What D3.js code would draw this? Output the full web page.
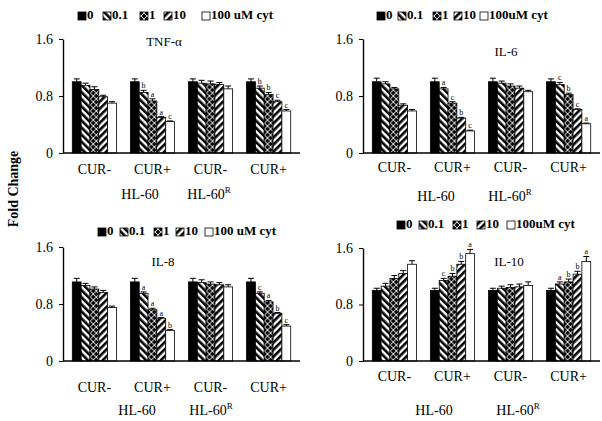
<!DOCTYPE html>
<html>
<head>
<meta charset="utf-8">
<script src="https://cdn.jsdelivr.net/npm/d3@7"></script>
<style>
body { margin: 0; background: #fff; }
text { font-family: "Liberation Serif", "Times New Roman", serif; }
</style>
</head>
<body>
<script>
// categories
var groups = ["CUR-", "CUR+", "CUR-", "CUR+"]
var doses = ["0", "0.1", "1", "10", "100"]
var legendText = ["0", "0.1", "1", "10", "100 uM cyt"]
var legendTextTight = ["0", "0.1", "1", "10", "100uM cyt"]
var cellLines = ["HL-60", "HL-60"]
var yTicks = [0, 0.8, 1.6]

// fold change values, one row per group (dose 0, 0.1, 1, 10, 100)
var tnf = [[1.0, 0.95, 0.89, 0.79, 0.70], [1.0, 0.85, 0.73, 0.50, 0.44], [1.0, 0.98, 0.97, 0.96, 0.90], [1.0, 0.91, 0.82, 0.72, 0.59]]
var tnfErr = [[0.04, 0.03, 0.04, 0.02, 0.02], [0.04, 0.03, 0.03, 0.01, 0.01], [0.04, 0.04, 0.04, 0.03, 0.04], [0.04, 0.03, 0.03, 0.02, 0.02]]
var tnfSig = [["", "", "", "", ""], ["", "b", "a", "a", "c"], ["", "", "", "", ""], ["", "b", "b", "c", "c"]]

var il6 = [[1.0, 0.97, 0.90, 0.67, 0.59], [1.0, 0.90, 0.70, 0.49, 0.31], [1.0, 0.98, 0.94, 0.91, 0.86], [1.0, 0.96, 0.82, 0.61, 0.41]]
var il6Err = [[0.05, 0.03, 0.02, 0.02, 0.02], [0.05, 0.02, 0.02, 0.01, 0.01], [0.05, 0.03, 0.03, 0.03, 0.02], [0.04, 0.03, 0.02, 0.01, 0.01]]
var il6Sig = [["", "", "", "", ""], ["", "a", "c", "b", "c"], ["", "", "", "", ""], ["", "c", "b", "c", "a"]]

var il8 = [[1.11, 1.06, 1.01, 0.96, 0.75], [1.11, 0.95, 0.72, 0.60, 0.43], [1.11, 1.10, 1.08, 1.07, 1.04], [1.11, 0.95, 0.83, 0.67, 0.49]]
var il8Err = [[0.05, 0.03, 0.03, 0.03, 0.02], [0.05, 0.02, 0.02, 0.01, 0.01], [0.05, 0.04, 0.03, 0.03, 0.03], [0.05, 0.02, 0.02, 0.01, 0.02]]
var il8Sig = [["", "", "", "", ""], ["", "a", "a", "a", "b"], ["", "", "", "", ""], ["", "c", "a", "b", "c"]]

var il10 = [[1.0, 1.06, 1.17, 1.24, 1.37], [1.0, 1.14, 1.20, 1.37, 1.52], [1.0, 1.03, 1.04, 1.05, 1.07], [1.0, 1.09, 1.12, 1.23, 1.41]]
var il10Err = [[0.03, 0.04, 0.04, 0.04, 0.05], [0.03, 0.03, 0.04, 0.04, 0.06], [0.03, 0.03, 0.04, 0.04, 0.05], [0.03, 0.03, 0.04, 0.04, 0.07]]
var il10Sig = [["", "", "", "", ""], ["", "c", "b", "b", "a"], ["", "", "", "", ""], ["", "a", "b", "b", "a"]]

var fills = ["#000", "url(#p01)", "url(#p1)", "url(#p10)", "#fff"]

let svg = d3.select("body").append("svg")
    .attr("width", 602)
    .attr("height", 421)
    .style("background", "#fff")

let defs = svg.append("defs")

// 0.1: "\" stripes
let p01 = defs.append("pattern").attr("id", "p01")
    .attr("patternUnits", "userSpaceOnUse")
    .attr("width", 5).attr("height", 5)
    .attr("patternTransform", "rotate(-45)")
p01.append("rect").attr("width", 5).attr("height", 5).attr("fill", "#fff")
p01.append("rect").attr("width", 2.6).attr("height", 5).attr("fill", "#000")

// 10: "/" stripes
let p10 = defs.append("pattern").attr("id", "p10")
    .attr("patternUnits", "userSpaceOnUse")
    .attr("width", 5).attr("height", 5)
    .attr("patternTransform", "rotate(45)")
p10.append("rect").attr("width", 5).attr("height", 5).attr("fill", "#fff")
p10.append("rect").attr("width", 2.6).attr("height", 5).attr("fill", "#000")

// 1: diamonds
let p1 = defs.append("pattern").attr("id", "p1")
    .attr("patternUnits", "userSpaceOnUse")
    .attr("width", 6).attr("height", 6)
p1.append("rect").attr("width", 6).attr("height", 6).attr("fill", "#fff")
p1.append("path").attr("fill", "#000")
    .attr("d", "M3,0.6L5.4,3L3,5.4L0.6,3Z M0,-2.4L2.4,0L0,2.4L-2.4,0Z M6,-2.4L8.4,0L6,2.4L3.6,0Z M0,3.6L2.4,6L0,8.4L-2.4,6Z M6,3.6L8.4,6L6,8.4L3.6,6Z")

function drawPanel(p) {
    let g = svg.append("g")

    let x = d3.scaleBand()
        .domain(d3.range(groups.length))
        .range([p.left, p.right])
        .paddingInner(0.24)
        .paddingOuter(0.16)

    let xi = d3.scaleBand()
        .domain(doses)
        .range([0, x.bandwidth()])

    let y = d3.scaleLinear()
        .domain([0, 1.6])
        .range([p.base, p.top])

    // bars
    p.values.forEach((row, gi) => {
        let bg = g.append("g").attr("transform", "translate(" + x(gi) + ",0)")
        bg.selectAll("rect")
            .data(row)
            .enter()
            .append("rect")
            .attr("x", (d, i) => xi(doses[i]))
            .attr("width", xi.bandwidth())
            .attr("y", d => y(d))
            .attr("height", d => y(0) - y(d))
            .attr("fill", (d, i) => fills[i])
            .attr("stroke", "#000")
            .attr("stroke-width", 0.8)

        // error bars
        bg.selectAll("path.err")
            .data(row)
            .enter()
            .append("path")
            .attr("class", "err")
            .attr("fill", "none")
            .attr("stroke", "#000")
            .attr("stroke-width", 1)
            .attr("d", (d, i) => {
                let cx = xi(doses[i]) + xi.bandwidth() / 2
                let t = y(d + p.errs[gi][i])
                return "M" + cx + "," + y(d) + "V" + t + "M" + (cx - 3) + "," + t + "H" + (cx + 3)
            })

        // significance letters
        bg.selectAll("text.sig")
            .data(row)
            .enter()
            .append("text")
            .attr("class", "sig")
            .attr("x", (d, i) => xi(doses[i]) + xi.bandwidth() / 2)
            .attr("y", (d, i) => y(d + p.errs[gi][i]) - 2)
            .attr("text-anchor", "middle")
            .attr("font-size", 8)
            .text((d, i) => p.sig[gi][i])
    })

    // y axis
    let yAxis = d3.axisLeft(y)
        .tickValues(yTicks)
        .tickSize(4)
        .tickSizeOuter(0)
        .tickPadding(6)
        .tickFormat(d => d === 0 ? "0" : d3.format(".1f")(d))

    let ya = g.append("g")
        .attr("transform", "translate(" + p.left + ",0)")
        .call(yAxis)
    ya.selectAll("text")
        .attr("font-family", "Liberation Serif")
        .attr("font-size", 14)
        .attr("fill", "#000")
    ya.select(".domain").attr("stroke-width", 1.4)

    // x baseline
    g.append("line")
        .attr("x1", p.left).attr("x2", p.right)
        .attr("y1", y(0)).attr("y2", y(0))
        .attr("stroke", "#000")
        .attr("stroke-width", 1.4)

    // group labels
    g.selectAll("text.grp")
        .data(groups)
        .enter()
        .append("text")
        .attr("class", "grp")
        .attr("x", (d, i) => x(i) + x.bandwidth() / 2)
        .attr("y", p.catY)
        .attr("text-anchor", "middle")
        .attr("dominant-baseline", "middle")
        .attr("font-size", 14)
        .text(d => d)

    // cell line labels
    cellLines.forEach((c, i) => {
        let t = g.append("text")
            .attr("x", p.cellX[i])
            .attr("y", p.cellY)
            .attr("text-anchor", "middle")
            .attr("dominant-baseline", "middle")
            .attr("font-size", 14)
            .text(c)
        if (i === 1) {
            t.append("tspan")
                .attr("font-size", 9)
                .attr("dy", -5)
                .text("R")
        }
    })

    // title
    g.append("text")
        .attr("x", p.titleX)
        .attr("y", p.titleY)
        .attr("text-anchor", "middle")
        .attr("dominant-baseline", "middle")
        .attr("font-size", 13)
        .text(p.title)

    // legend
    let lg = g.append("g").attr("transform", "translate(" + p.legX + "," + p.legY + ")")
    p.legText.forEach((t, i) => {
        lg.append("rect")
            .attr("x", p.legOff[i])
            .attr("y", -4)
            .attr("width", 8)
            .attr("height", 8)
            .attr("fill", fills[i])
            .attr("stroke", "#000")
            .attr("stroke-width", 0.8)
        lg.append("text")
            .attr("x", p.legOff[i] + 9)
            .attr("y", 0.5)
            .attr("dominant-baseline", "middle")
            .attr("font-size", 13)
            .attr("font-weight", "bold")
            .text(t)
    })
}

drawPanel({
    title: "TNF-\u03b1", values: tnf, errs: tnfErr, sig: tnfSig,
    left: 63, right: 300, base: 153, top: 39,
    catY: 171, cellY: 196, cellX: [140, 209],
    titleX: 164, titleY: 43,
    legText: legendText, legX: 78, legY: 16, legOff: [0, 25, 62, 86, 124]
})
drawPanel({
    title: "IL-6", values: il6, errs: il6Err, sig: il6Sig,
    left: 363, right: 600, base: 153, top: 39,
    catY: 169, cellY: 198, cellX: [436, 510],
    titleX: 506, titleY: 53,
    legText: legendTextTight, legX: 377, legY: 16, legOff: [0, 21, 56, 77, 103]
})
drawPanel({
    title: "IL-8", values: il8, errs: il8Err, sig: il8Sig,
    left: 63, right: 300, base: 361, top: 247,
    catY: 389, cellY: 412, cellX: [137, 211],
    titleX: 163, titleY: 263,
    legText: legendText, legX: 98, legY: 232, legOff: [0, 22, 56, 78, 107]
})
drawPanel({
    title: "IL-10", values: il10, errs: il10Err, sig: il10Sig,
    left: 363, right: 600, base: 361, top: 248,
    catY: 378, cellY: 412, cellX: [434, 518],
    titleX: 509, titleY: 263,
    legText: legendTextTight, legX: 397, legY: 225, legOff: [0, 22, 56, 80, 110]
})

svg.append("text")
    .attr("transform", "translate(15,189) rotate(-90)")
    .attr("text-anchor", "middle")
    .attr("dominant-baseline", "middle")
    .attr("font-size", 14)
    .attr("font-weight", "bold")
    .text("Fold Change")
</script>
</body>
</html>
